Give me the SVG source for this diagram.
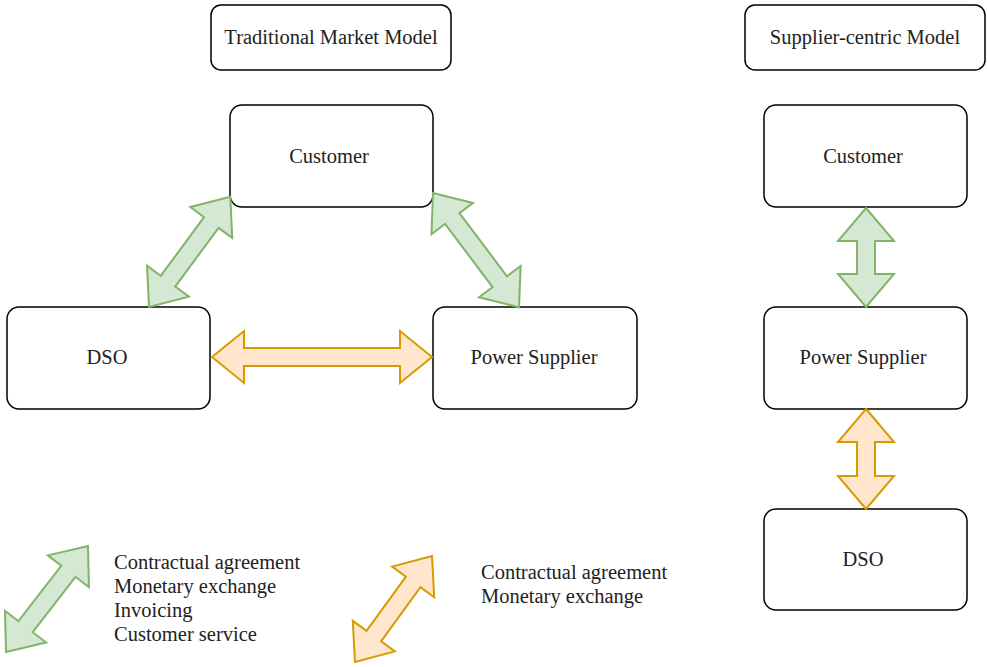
<svg xmlns="http://www.w3.org/2000/svg" width="987" height="667" viewBox="0 0 987 667">
<style>
.box{fill:#fff;stroke:#000;stroke-width:1.5}
.t{font-family:"Liberation Serif","Times New Roman",serif;font-size:20.5px;fill:#222}
.c{text-anchor:middle}
.g{fill:#d5e8d4;stroke:#82b366;stroke-width:2;stroke-linejoin:miter}
.o{fill:#ffe6cc;stroke:#d79b00;stroke-width:2;stroke-linejoin:miter}
</style>
<rect width="987" height="667" fill="#fff"/>
<g id="title-traditional"><rect class="box" x="211" y="5" width="240" height="65" rx="10"/><text class="t c" x="331" y="44">Traditional Market Model</text></g>
<g id="title-supplier"><rect class="box" x="745" y="5" width="240" height="65" rx="10"/><text class="t c" x="865" y="44">Supplier-centric Model</text></g>
<g id="customer-left"><rect class="box" x="230" y="105" width="203" height="102" rx="12"/><text class="t c" x="329" y="163">Customer</text></g>
<g id="dso-left"><rect class="box" x="7" y="307" width="203" height="102" rx="12"/><text class="t c" x="107" y="364">DSO</text></g>
<g id="supplier-left"><rect class="box" x="433" y="307" width="204" height="102" rx="12"/><text class="t c" x="534" y="364">Power Supplier</text></g>
<g id="customer-right"><rect class="box" x="764" y="105" width="203" height="102" rx="12"/><text class="t c" x="863" y="163">Customer</text></g>
<g id="supplier-right"><rect class="box" x="764" y="307" width="203" height="102" rx="12"/><text class="t c" x="863" y="364">Power Supplier</text></g>
<g id="dso-right"><rect class="box" x="764" y="509" width="203" height="101" rx="12"/><text class="t c" x="863" y="566">DSO</text></g>
<g id="connectors">
<path class="g" transform="translate(149,307) rotate(-53.6)" d="M0,0 L32,-26 L32,-9 L105,-9 L105,-26 L137,0 L105,26 L105,9 L32,9 L32,26 Z"/>
<path class="g" transform="translate(433,193) rotate(53)" d="M0,0 L32,-26 L32,-9 L111,-9 L111,-26 L143,0 L111,26 L111,9 L32,9 L32,26 Z"/>
<path class="o" transform="translate(212,357)" d="M0,0 L32,-26 L32,-9 L188,-9 L188,-26 L220,0 L188,26 L188,9 L32,9 L32,26 Z"/>
<path class="g" transform="translate(866,208) rotate(90)" d="M0,0 L33,-28 L33,-9 L66,-9 L66,-28 L99,0 L66,28 L66,9 L33,9 L33,28 Z"/>
<path class="o" transform="translate(866,409) rotate(90)" d="M0,0 L33,-28 L33,-9 L67,-9 L67,-28 L100,0 L67,28 L67,9 L33,9 L33,28 Z"/>
</g>
<g id="legend">
<path class="g" transform="translate(6,652) rotate(-52.3)" d="M0,0 L32,-26 L32,-9 L102,-9 L102,-26 L134,0 L102,26 L102,9 L32,9 L32,26 Z"/>
<text class="t" x="114" y="569">Contractual agreement</text>
<text class="t" x="114" y="593">Monetary exchange</text>
<text class="t" x="114" y="617">Invoicing</text>
<text class="t" x="114" y="641">Customer service</text>
<path class="o" transform="translate(355,662) rotate(-54)" d="M0,0 L32,-26 L32,-9 L99,-9 L99,-26 L131,0 L99,26 L99,9 L32,9 L32,26 Z"/>
<text class="t" x="481" y="579">Contractual agreement</text>
<text class="t" x="481" y="603">Monetary exchange</text>
</g>
</svg>
